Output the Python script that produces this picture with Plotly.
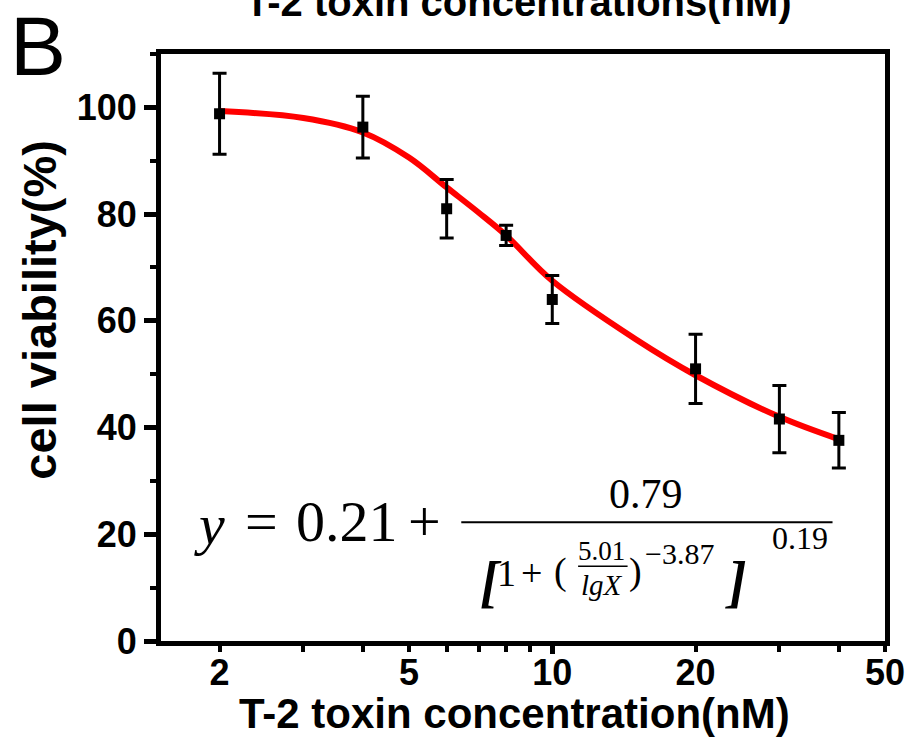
import plotly.graph_objects as go

# ---------------- data ----------------
conc = [2, 4, 6, 8, 10, 20, 30, 40]                       # nM
viability = [98.8, 96.3, 81.0, 76.0, 64.0, 51.0, 41.6, 37.6]  # %
sd = [7.6, 5.8, 5.5, 1.9, 4.5, 6.5, 6.3, 5.2]

fit_x = [2, 3, 4, 5, 6, 7, 8, 10, 15, 20, 30, 40]
fit_y = [99.3, 98.0, 95.3, 90.6, 85.0, 80.3, 76.0, 67.5, 56.5, 49.8, 42.0, 37.8]

x_tickvals = [2, 5, 10, 20, 50]
x_ticktext = ["2", "5", "10", "20", "50"]
x_minor = [3, 4, 6, 7, 8, 9, 30, 40]
y_tickvals = [0, 20, 40, 60, 80, 100]

W, H = 917, 749
L, R, T, B = 160.7, 892.0, 54.0, 640.7


def px(x):
    return (x - L) / (R - L)


def py(y):
    return (B - y) / (B - T)


fig = go.Figure()

fig.add_trace(go.Scatter(
    x=fit_x, y=fit_y, mode="lines", line=dict(color="#ff0000", width=6, shape="spline"),
    hoverinfo="skip", showlegend=False))

fig.add_trace(go.Scatter(
    x=conc, y=viability, mode="markers",
    marker=dict(symbol="square", size=11, color="black"),
    error_y=dict(type="data", array=sd, visible=True, color="black", thickness=3, width=7),
    showlegend=False))

# hidden trace for the overlay axis carrying the long tick at 10
fig.add_trace(go.Scatter(x=conc, y=viability, mode="markers", marker=dict(opacity=0),
                         xaxis="x2", hoverinfo="skip", showlegend=False))

tickfont = dict(family="Liberation Sans, Arial", size=36, color="black", weight="bold")

fig.update_layout(
    width=W, height=H,
    margin=dict(l=L, r=W - R, t=T, b=H - B),
    paper_bgcolor="white", plot_bgcolor="white",
    xaxis=dict(
        type="log", range=[0.178, 1.699],
        tickmode="array", tickvals=x_tickvals, ticktext=x_ticktext,
        ticks="outside", ticklen=6, tickwidth=4, tickcolor="black",
        minor=dict(tickmode="array", tickvals=x_minor, ticks="outside", ticklen=6,
                   tickwidth=4, tickcolor="black", showgrid=False),
        showline=True, linewidth=5, linecolor="black", mirror=True,
        showgrid=False, zeroline=False, tickfont=tickfont, ticklabelstandoff=-10,
    ),
    xaxis2=dict(
        type="log", range=[0.178, 1.699], overlaying="x", side="bottom",
        tickmode="array", tickvals=[10], ticks="outside", ticklen=12, tickwidth=5,
        tickcolor="black", showticklabels=False, showline=False, showgrid=False,
        zeroline=False,
    ),
    yaxis=dict(
        range=[0, 110], tickmode="array", tickvals=y_tickvals,
        ticks="outside", ticklen=12, tickwidth=5, tickcolor="black",
        minor=dict(dtick=10, ticks="outside", ticklen=6, tickwidth=4, tickcolor="black",
                   showgrid=False),
        showline=True, linewidth=5, linecolor="black", mirror=True,
        showgrid=False, zeroline=False, tickfont=tickfont,
    ),
)

sans = "Liberation Sans, Arial"
serif = "Liberation Serif, Times New Roman"


def ann(text, x, y, size, family=serif, xanchor="center", yanchor="middle", **kw):
    fig.add_annotation(text=text, x=px(x), y=py(y), xref="paper", yref="paper",
                       showarrow=False, xanchor=xanchor, yanchor=yanchor,
                       font=dict(family=family, size=size, color="black"), **kw)


# axis titles and panel label
ann("<b>T-2 toxin concentration(nM)</b>", 518, 713, 42, family=sans)
ann("<b>cell viability(%)</b>", 38, 310, 47, family=sans, textangle=-90)
ann("<b>T-2 toxin concentrations(nM)</b>", 522, 2, 40, family=sans)
ann("B", 36, 46, 84, family=sans)

# equation
ann("<i>y</i>", 210, 524, 58)
ann("=", 262, 521, 58)
ann("0.21", 349, 521, 58)
ann("+", 427, 521, 58)
ann("0.79", 651, 494, 42)
fig.add_shape(type="line", xref="paper", yref="paper", x0=px(464), x1=px(839),
              y0=py(522), y1=py(522), line=dict(color="black", width=2))
ann("<b><i>[</i></b>", 494, 582, 56)
ann("1", 510, 573, 38)
ann("+", 535, 573, 38)
ann("(", 564, 571, 38)
ann("5.01", 606, 551, 27)
fig.add_shape(type="line", xref="paper", yref="paper", x0=px(582), x1=px(632),
              y0=py(566), y1=py(566), line=dict(color="black", width=1.5))
ann("<i>lgX</i>", 606, 585, 29)
ann(")", 640, 571, 38)
ann("\u22123.87", 648, 553, 30, xanchor="left")
ann("<b><i>]</i></b>", 742, 582, 56)
ann("0.19", 806, 538, 32)

fig.write_html("out.html")
